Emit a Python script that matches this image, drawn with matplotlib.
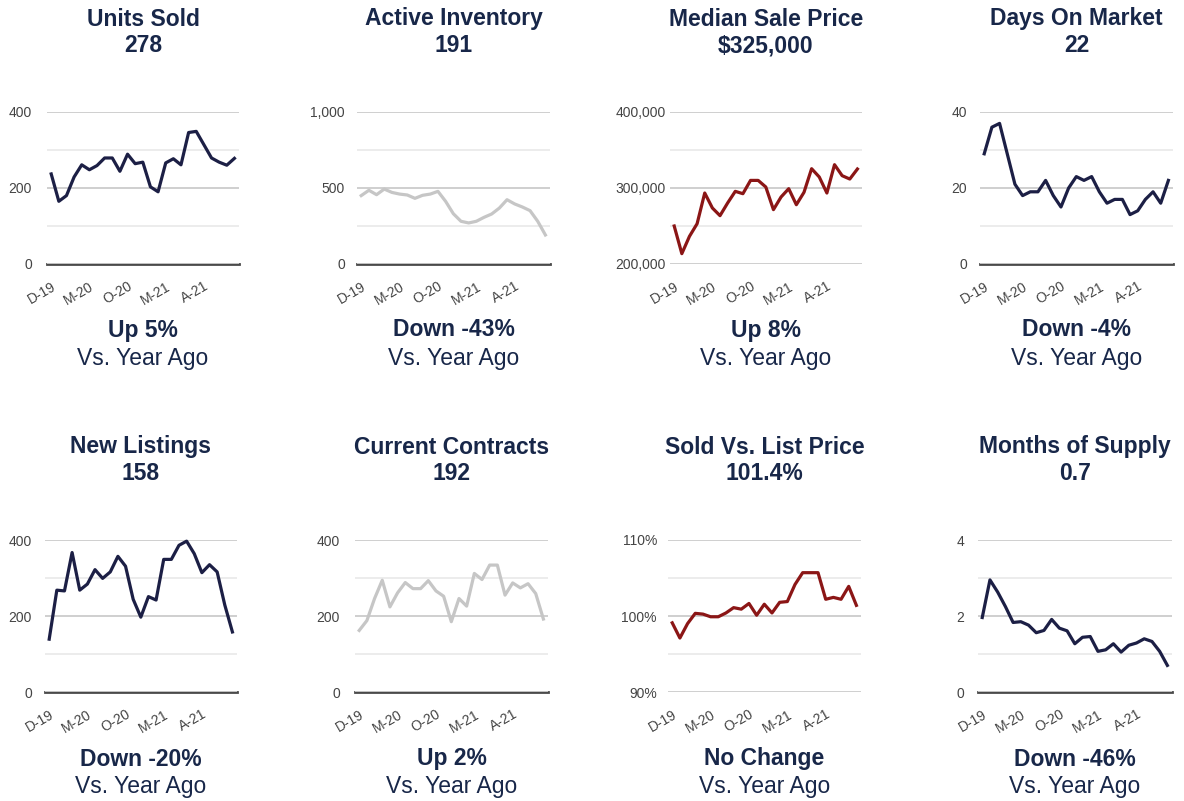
import matplotlib.pyplot as plt
from matplotlib.ticker import FuncFormatter, MultipleLocator

# monthly points, Dec 2019 .. Dec 2021
tick_labels = ['D-19', 'M-20', 'O-20', 'M-21', 'A-21']
tick_pos = [0, 5, 10, 15, 20]

units_sold = [237, 165, 180, 229, 261, 248, 259, 279, 279, 244, 289, 264, 268,
              203, 190, 266, 277, 261, 346, 349, 314, 279, 268, 260, 278]
active_inventory = [450, 485, 456, 493, 471, 460, 454, 432, 452, 460, 478, 412, 331,
                    281, 270, 281, 307, 329, 368, 423, 395, 375, 351, 281, 191]
median_price = [250000, 213600, 236400, 253000, 293400, 273700, 263600, 280300, 295600,
                292500, 310000, 310000, 301300, 271500, 288200, 299100, 278000, 294300,
                325400, 314500, 293400, 330700, 316200, 311800, 325000]
days_on_market = [29, 36, 37, 29, 21, 18, 19, 19, 22, 18, 15, 20, 23,
                  22, 23, 19, 16, 17, 17, 13, 14, 17, 19, 16, 22]
new_listings = [139, 268, 266, 367, 268, 284, 322, 299, 316, 357, 331, 244, 197,
                251, 242, 349, 349, 386, 397, 364, 314, 335, 316, 229, 158]
current_contracts = [162, 188, 246, 294, 224, 261, 288, 272, 272, 293, 266, 252, 185,
                     246, 226, 312, 296, 334, 334, 255, 287, 274, 285, 259, 192]
sold_vs_list = [99.1, 97.1, 99.0, 100.35, 100.25, 99.9, 99.9, 100.4, 101.1, 100.9,
                101.65, 100.1, 101.55, 100.4, 101.8, 101.9, 104.15, 105.7, 105.7,
                105.7, 102.2, 102.45, 102.2, 103.9, 101.4]
months_supply = [1.96, 2.95, 2.63, 2.25, 1.83, 1.85, 1.76, 1.56, 1.62, 1.91, 1.68, 1.61,
                 1.27, 1.44, 1.46, 1.07, 1.11, 1.27, 1.05, 1.23, 1.29, 1.40, 1.33, 1.07, 0.7]

titles = ['Units Sold', 'Active Inventory', 'Median Sale Price', 'Days On Market',
          'New Listings', 'Current Contracts', 'Sold Vs. List Price', 'Months of Supply']
headline = ['278', '191', '$325,000', '22', '158', '192', '101.4%', '0.7']
change = ['Up 5%', 'Down -43%', 'Up 8%', 'Down -4%',
          'Down -20%', 'Up 2%', 'No Change', 'Down -46%']

NAVY = '#1c1f45'
GREY = '#c6c6c6'
RED = '#8b1616'
TEXT = '#182749'

series = [units_sold, active_inventory, median_price, days_on_market,
          new_listings, current_contracts, sold_vs_list, months_supply]
colors = [NAVY, GREY, RED, NAVY, NAVY, GREY, RED, NAVY]
ylims = [(0, 400), (0, 1000), (200000, 400000), (0, 40),
         (0, 400), (0, 400), (90, 110), (0, 4)]
comma = lambda v, p: f'{v:,.0f}'
fmts = [comma, comma, comma, comma, comma, comma,
        lambda v, p: f'{v:.0f}%', lambda v, p: f'{v:.0f}']
# pixel extents (left, right) of each plot area, and label pad in px
x_extent = [(47, 239), (357, 550), (670, 862), (980, 1173),
            (45, 237), (355, 548), (668, 861), (978, 1172)]
pads = [15, 12, 4, 13, 13, 15, 11, 14]
row_y = [(112, 264), (540, 692)]
text_y = [(19, 46, 330, 358), (447, 474, 759, 786)]

W, H = 1184, 801
plt.rcParams['font.family'] = ['Liberation Sans', 'DejaVu Sans']
fig = plt.figure(figsize=(W / 100, H / 100), dpi=100)

for i, data in enumerate(series):
    row = i // 4
    x0, x1 = x_extent[i]
    ytop, ybot = row_y[row]
    ax = fig.add_axes([x0 / W, 1 - ybot / H, (x1 - x0) / W, (ybot - ytop) / H])
    lo, hi = ylims[i]
    step = (hi - lo) / 2
    ax.set_ylim(lo, hi)
    ax.set_xlim(-0.55, 24.6)
    ax.yaxis.set_major_locator(MultipleLocator(step))
    ax.yaxis.set_minor_locator(MultipleLocator(step / 2))
    ax.yaxis.set_major_formatter(FuncFormatter(fmts[i]))
    ax.grid(True, which='major', axis='y', color='#cccccc', lw=1.3, zorder=0)
    ax.grid(True, which='minor', axis='y', color='#ebebeb', lw=1.3, zorder=0)
    if lo == 0:
        ax.axhline(0, color='#4a4a4a', lw=2, zorder=1, clip_on=False)
    ax.plot(range(len(data)), data, color=colors[i], lw=2.3, zorder=3,
            solid_joinstyle='round', clip_on=False)
    for s in ax.spines.values():
        s.set_visible(False)
    ax.set_xticks(tick_pos)
    ax.set_xticklabels(tick_labels, rotation=30, ha='right', rotation_mode='anchor')
    ax.tick_params(axis='x', length=0, pad=11, labelsize=10, labelcolor='#444444')
    ax.tick_params(axis='y', which='both', length=0, pad=pads[i] * 0.72,
                   labelsize=10, labelcolor='#444444')

    cx = (x0 + x1) / 2 / W
    t1, t2, b1, b2 = text_y[row]
    fig.text(cx, 1 - t1 / H, titles[i], ha='center', va='center', fontsize=16.5,
             fontweight='bold', color=TEXT)
    fig.text(cx, 1 - t2 / H, headline[i], ha='center', va='center', fontsize=16.5,
             fontweight='bold', color=TEXT)
    fig.text(cx, 1 - b1 / H, change[i], ha='center', va='center', fontsize=16.5,
             fontweight='bold', color=TEXT)
    fig.text(cx, 1 - b2 / H, 'Vs. Year Ago', ha='center', va='center', fontsize=16.5,
             color=TEXT)

fig.savefig('out.png', dpi=100, facecolor='white')
